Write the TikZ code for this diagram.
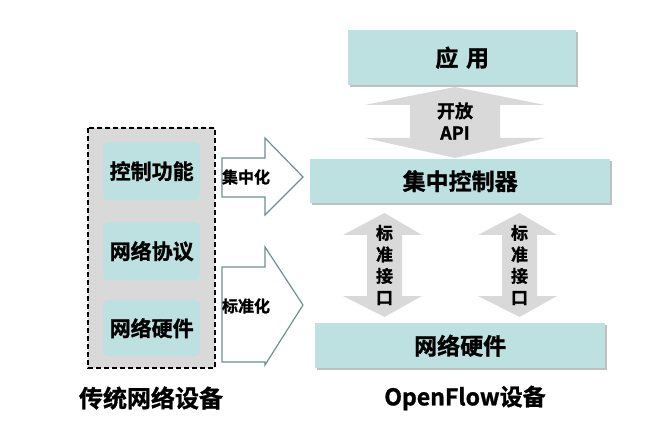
\documentclass[tikz,border=0pt]{standalone}
\usepackage{fontspec}
\setmainfont{Noto Sans CJK SC}[BoldFont={Noto Sans CJK SC Bold}, BoldFeatures={FakeBold=1.2}]
\definecolor{boxteal}{HTML}{BDE0E0}
\definecolor{arrgray}{HTML}{D9D9D9}
\definecolor{arredge}{HTML}{6E9090}
\tikzset{
  box/.style={fill=boxteal, draw=none, font={\bfseries\fontsize{23}{23}\selectfont},
    inner sep=0pt, anchor=north west},
  shadow/.style={fill=black!25},
  inner/.style={fill=boxteal, rounded corners=6pt, draw=none,
    font={\bfseries\fontsize{21}{21}\selectfont}, inner sep=0pt, anchor=north west},
  lbl/.style={font={\bfseries\fontsize{16}{17}\selectfont}, align=center},
  outarrow/.style={fill=white, draw=arredge, line width=1.2pt},
  grayarrow/.style={fill=arrgray, draw=none}
}
\begin{document}
\begin{tikzpicture}[x=1pt,y=-1pt]
  \useasboundingbox (0,0) rectangle (666,446);

  % traditional device
  \draw[fill=arrgray, dashed, line width=1.2pt, dash pattern=on 5pt off 3pt]
    (88,128) rectangle (215,368);
  \node[inner, minimum width=97pt, minimum height=58pt] (ctrl) at (103,142) {控制功能};
  \node[inner, minimum width=97pt, minimum height=58pt] (proto) at (103,222) {网络协议};
  \node[inner, minimum width=97pt, minimum height=56pt] (hwl) at (103,300) {网络硬件};
  \node[font={\bfseries\fontsize{24}{24}\selectfont}] (trad) at (151,398) {传统网络设备};

  % outline arrows
  \draw[outarrow] (222,158) -- (265,158) -- (265,138) -- (303,177)
    -- (265,215) -- (265,197) -- (222,197) -- cycle;
  \node[lbl] (cen) at (246,177) {集中化};
  \draw[outarrow] (222,267) -- (265,267) -- (265,247) -- (303,305)
    -- (265,365) -- (265,362) -- (222,362) -- cycle;
  \node[lbl] (std) at (246,306) {标准化};

  % OpenFlow device
  \fill[shadow] (350,32) rectangle (578,87);
  \node[box, minimum width=228pt, minimum height=55pt] (app) at (348,30) {应\,\,用};
  \fill[grayarrow] (455,87) -- (545,105) -- (500,105) -- (500,138) -- (545,138)
    -- (455,158) -- (365,138) -- (410,138) -- (410,105) -- (365,105) -- cycle;
  \node[lbl, font={\bfseries\fontsize{18}{22}\selectfont}] (api) at (455,121) {开放\\API};
  \fill[shadow] (312,161) rectangle (612,205);
  \node[box, minimum width=300pt, minimum height=44pt] (ctl) at (310,159) {集中控制器};
  \foreach \dx/\nm in {0/ifa, 135/ifb} {
    \fill[grayarrow] (384.5+\dx,213) -- (422+\dx,235) -- (402+\dx,235) -- (402+\dx,296)
      -- (422+\dx,296) -- (384.5+\dx,317) -- (343+\dx,296) -- (367+\dx,296)
      -- (367+\dx,235) -- (343+\dx,235) -- cycle;
    \node[lbl, font={\bfseries\fontsize{17}{21.5}\selectfont}] (\nm) at (384.5+\dx,265) {标\\准\\接\\口};
  }
  \fill[shadow] (317,325) rectangle (607,370);
  \node[box, minimum width=290pt, minimum height=45pt] (hwr) at (315,323) {网络硬件};
  \node[font={\bfseries\fontsize{23}{23}\selectfont}] (of) at (465,398) {OpenFlow设备};
\end{tikzpicture}
\end{document}
